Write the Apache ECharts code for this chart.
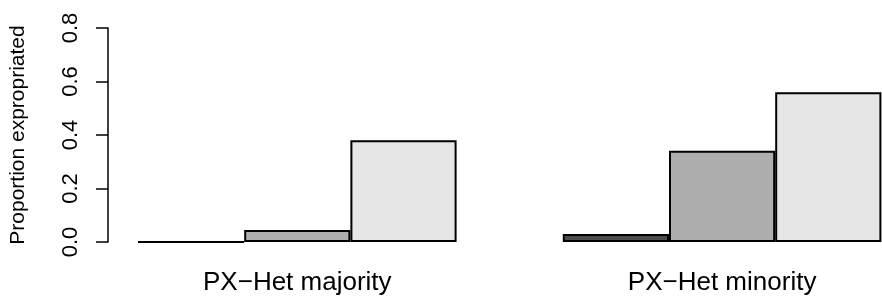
<!DOCTYPE html>
<html>
<head>
<meta charset="utf-8">
<script src="https://cdn.jsdelivr.net/npm/echarts@6/dist/echarts.min.js"></script>
<style>
html,body{margin:0;padding:0;background:#fff;}
#c{width:882px;height:298px;}
</style>
</head>
<body>
<div id="c"></div>
<script>
var groups = ['PX\u2212Het majority', 'PX\u2212Het minority'];
var level1 = [0.000, 0.030];
var level2 = [0.045, 0.341];
var level3 = [0.380, 0.560];
var levelColors = ['#4D4D4D', '#AEAEAE', '#E6E6E6'];
var yTicks = [0, 0.2, 0.4, 0.6, 0.8];
var yTitle = 'Proportion expropriated';

var levels = [level1, level2, level3];
var slotLabels = [];
var slotData = [];
groups.forEach(function (g, gi) {
  if (gi > 0) { slotLabels.push(''); slotData.push('-'); }
  levels.forEach(function (lv, li) {
    slotLabels.push(li === 1 ? g : '');
    slotData.push({ value: lv[gi], itemStyle: { color: levelColors[li] } });
  });
});

var chart = echarts.init(document.getElementById('c'), null, { renderer: 'canvas' });
chart.setOption({
  animation: false,
  backgroundColor: '#ffffff',
  grid: { left: 138, top: 28, width: 743.4, height: 214, containLabel: false, outerBoundsMode: 'none' },
  xAxis: {
    type: 'category',
    data: slotLabels,
    axisLine: { show: false },
    axisTick: { show: false },
    axisLabel: { interval: 0, fontSize: 26, color: '#000', fontFamily: 'Liberation Sans, Arial, sans-serif', margin: 28 },
    splitLine: { show: false }
  },
  yAxis: {
    type: 'value',
    min: yTicks[0],
    max: yTicks[yTicks.length - 1],
    interval: 0.2,
    offset: 30,
    axisLine: { show: true, lineStyle: { color: '#000', width: 1.5 } },
    axisTick: { show: true, length: 12, lineStyle: { color: '#000', width: 1.5 } },
    axisLabel: {
      rotate: 90, fontSize: 22, color: '#000', margin: 26,
      fontFamily: 'Liberation Sans, Arial, sans-serif',
      formatter: function (v) { return v.toFixed(1); }
    },
    splitLine: { show: false },
    name: yTitle,
    nameLocation: 'middle',
    nameRotate: 90,
    nameGap: 79,
    nameTextStyle: { fontSize: 21, color: '#000', fontFamily: 'Liberation Sans, Arial, sans-serif' }
  },
  series: [{
    type: 'bar',
    data: slotData,
    barWidth: '100%',
    barCategoryGap: 0,
    itemStyle: { borderColor: '#000', borderWidth: 2 }
  }]
});
</script>
</body>
</html>
